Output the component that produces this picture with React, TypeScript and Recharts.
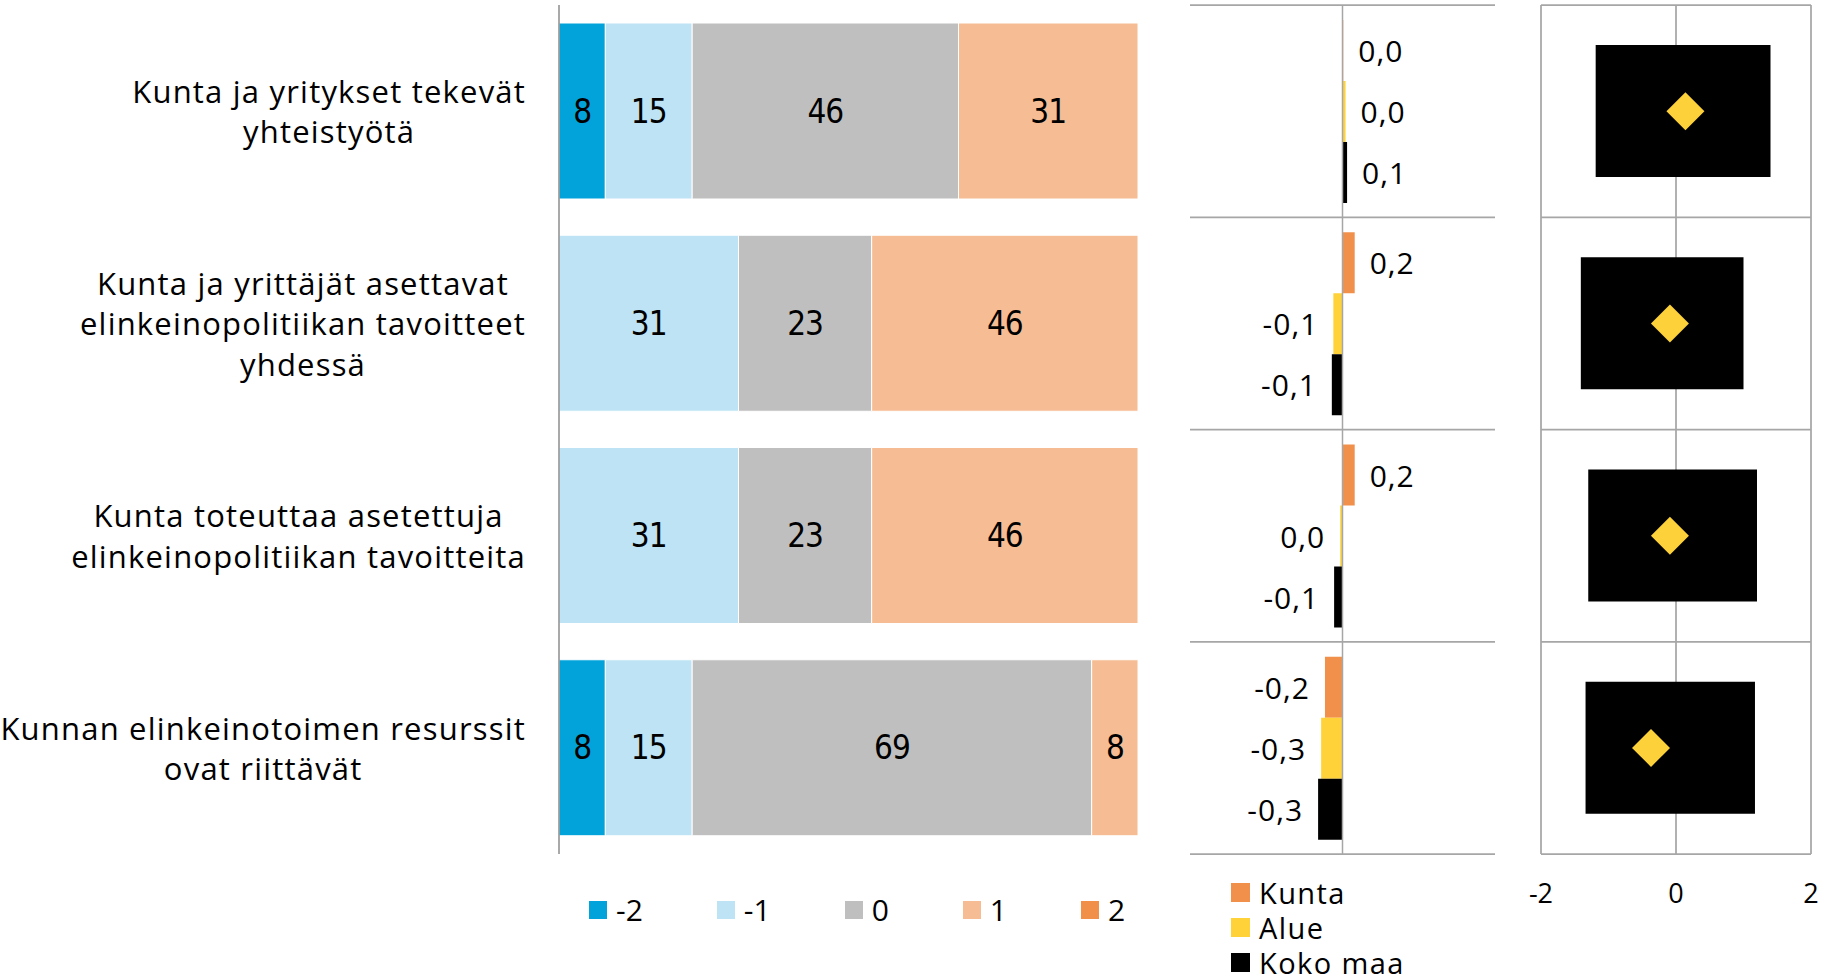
import React from "react"
import {
  BarChart,
  ComposedChart,
  Bar,
  Scatter,
  XAxis,
  YAxis,
  CartesianGrid,
  ReferenceLine,
  LabelList,
  Legend,
} from "recharts"

// statements, line breaks as in the original
const statements = [
  "Kunta ja yritykset tekevät\nyhteistyötä",
  "Kunta ja yrittäjät asettavat\nelinkeinopolitiikan tavoitteet\nyhdessä",
  "Kunta toteuttaa asetettuja\nelinkeinopolitiikan tavoitteita",
  "Kunnan elinkeinotoimen resurssit\novat riittävät",
]

// answer shares in % on the scale -2 ... 2
const shareMinus2 = [8, 0, 0, 8]
const shareMinus1 = [15, 31, 31, 15]
const shareZero = [46, 23, 23, 69]
const sharePlus1 = [31, 46, 46, 8]
const sharePlus2 = [0, 0, 0, 0]

// differences (middle panel)
const kunta = [0.01, 0.16, 0.16, -0.23]
const alue = [0.04, -0.12, -0.03, -0.28]
const kokoMaa = [0.06, -0.14, -0.11, -0.32]

// spread and mean (right panel)
const spreadLow = [-1.19, -1.41, -1.3, -1.34]
const spreadHigh = [1.4, 1.0, 1.2, 1.17]
const meanScore = [0.14, -0.09, -0.09, -0.37]

const scaleTicks = [-2, 0, 2]

const NARROW = "'DejaVu Sans Condensed', 'Liberation Sans Narrow', sans-serif"
const LABEL_FONT = "'Open Sans', sans-serif"
const LABEL_SIZE = 31
const LABEL_SPACING = 1.2
const LINE_H = 40.6
const GRID = "#A6A6A6"

const shareSeries = [
  { key: "m2", name: "-2", color: "#02A3DA" },
  { key: "m1", name: "-1", color: "#BDE3F5" },
  { key: "z", name: "0", color: "#BFBFBF" },
  { key: "p1", name: "1", color: "#F6BC93" },
  { key: "p2", name: "2", color: "#F09049" },
]

const areaSeries = [
  { key: "kunta", name: "Kunta", color: "#F0904B" },
  { key: "alue", name: "Alue", color: "#FFD23A" },
  { key: "kokoMaa", name: "Koko maa", color: "#000000" },
]

const data = statements.map((name, i) => ({
  name,
  m2: shareMinus2[i],
  m1: shareMinus1[i],
  z: shareZero[i],
  p1: sharePlus1[i],
  p2: sharePlus2[i],
  kunta: kunta[i],
  alue: alue[i],
  kokoMaa: kokoMaa[i],
  spread: [spreadLow[i], spreadHigh[i]],
  mean: meanScore[i],
}))

let measureCtx: CanvasRenderingContext2D | null = null
function textWidth(s: string) {
  if (!measureCtx) measureCtx = document.createElement("canvas").getContext("2d")
  if (!measureCtx) return s.length * LABEL_SIZE * 0.55
  measureCtx.font = `${LABEL_SIZE}px ${LABEL_FONT}`
  return measureCtx.measureText(s).width + s.length * LABEL_SPACING
}

// multi-line label, lines centred on each other, block right aligned to the axis
function CategoryTick(props: any) {
  const { x, y, payload } = props
  const lines = String(payload.value).split("\n")
  const maxW = Math.max(...lines.map(textWidth))
  const cx = x - maxW / 2
  const y0 = y - ((lines.length - 1) * LINE_H) / 2
  return (
    <g>
      {lines.map((line, i) => (
        <text
          key={i}
          x={cx}
          y={y0 + i * LINE_H}
          textAnchor="middle"
          dominantBaseline="central"
          fontFamily={LABEL_FONT}
          fontSize={LABEL_SIZE}
          letterSpacing={LABEL_SPACING}
          fill="#000"
        >
          {line}
        </text>
      ))}
    </g>
  )
}

function fmtDelta(v: number) {
  const s = Math.abs(v) < 0.05 ? "0.0" : v.toFixed(1)
  return s.replace(".", ",")
}

const renderDeltaLabel = (props: any) => {
  const { x, y, width, height, value } = props
  const left = Math.min(x, x + width)
  const right = Math.max(x, x + width)
  const neg = value < 0
  return (
    <text
      x={neg ? left - 15 : right + 15}
      y={y + height / 2}
      textAnchor={neg ? "end" : "start"}
      dominantBaseline="central"
      fontFamily={LABEL_FONT}
      fontSize={30}
      letterSpacing={1}
      fill="#000"
    >
      {fmtDelta(value)}
    </text>
  )
}

const renderDiamond = (props: any) => {
  const { cx, cy, fill } = props
  const r = 19
  return <polygon points={`${cx},${cy - r} ${cx + r},${cy} ${cx},${cy + r} ${cx - r},${cy}`} fill={fill} />
}

// grid lines on the category band edges
const bandEdges = ({ yAxis, offset }: any) => {
  const n = statements.length
  const scale = yAxis?.scale
  if (typeof scale === "function" && typeof scale.bandwidth === "function") {
    const starts = statements.map((s) => scale(s))
    return [...starts, starts[n - 1] + scale.bandwidth()]
  }
  return Array.from({ length: n + 1 }, (_, i) => offset.top + (i * offset.height) / n)
}

// keep legend entries in series order
const ordered = (payload: any[], series: { name: string }[]) =>
  series.map((s) => (payload || []).find((p: any) => p.value === s.name)).filter(Boolean)

const renderShareLegend = (props: any) => (
  <div style={{ display: "flex", gap: 74, fontFamily: LABEL_FONT, fontSize: 30, lineHeight: "36px" }}>
    {ordered(props.payload, shareSeries).map((entry: any) => (
      <div key={entry.value} style={{ display: "flex", alignItems: "center" }}>
        <span style={{ width: 18, height: 18, background: entry.color, marginRight: 9, display: "inline-block" }} />
        {entry.value}
      </div>
    ))}
  </div>
)

const renderAreaLegend = (props: any) => (
  <div style={{ fontFamily: LABEL_FONT, fontSize: 29, letterSpacing: 1.4, lineHeight: "35px" }}>
    {ordered(props.payload, areaSeries).map((entry: any) => (
      <div key={entry.value} style={{ display: "flex", alignItems: "center" }}>
        <span style={{ width: 19, height: 19, background: entry.color, marginRight: 9, display: "inline-block" }} />
        {entry.value}
      </div>
    ))}
  </div>
)

export default function App() {
  return (
    <div
      style={{
        position: "absolute",
        left: 0,
        top: 0,
        width: 1821,
        height: 977,
        overflow: "hidden",
        background: "#fff",
      }}
    >
      <div style={{ position: "absolute", left: 0, top: 0 }}>
        <BarChart
          width={1160}
          height={977}
          data={data}
          layout="vertical"
          margin={{ top: 5, right: 22, bottom: 123, left: 0 }}
          barSize={176}
        >
          <XAxis type="number" domain={[0, 100]} hide />
          <YAxis
            type="category"
            dataKey="name"
            width={559}
            axisLine={{ stroke: "#8C8C8C", strokeWidth: 1.5 }}
            tickLine={false}
            tickSize={0}
            tickMargin={33}
            interval={0}
            tick={<CategoryTick />}
          />
          <Legend
            verticalAlign="middle"
            content={renderShareLegend}
            wrapperStyle={{ top: 892, left: 589, width: 560, height: 36 }}
          />
          {shareSeries.map((s) => (
            <Bar
              key={s.key}
              dataKey={s.key}
              name={s.name}
              stackId="share"
              fill={s.color}
              stroke="#ffffff"
              strokeWidth={1}
              isAnimationActive={false}
            >
              <LabelList
                dataKey={s.key}
                position="center"
                formatter={(v: any) => (v ? v : "")}
                fill="#000"
                fontSize={33}
                letterSpacing={-1}
                fontFamily={NARROW}
              />
            </Bar>
          ))}
        </BarChart>
      </div>

      <div style={{ position: "absolute", left: 1150, top: 0 }}>
        <ComposedChart
          width={360}
          height={977}
          data={data}
          layout="vertical"
          margin={{ top: 5, right: 15, bottom: 123, left: 40 }}
          barSize={61}
          barGap={0}
        >
          <CartesianGrid vertical={false} stroke={GRID} strokeWidth={1.75} horizontalCoordinatesGenerator={bandEdges} />
          <XAxis type="number" domain={[-2, 2]} hide />
          <YAxis type="category" dataKey="name" hide />
          <ReferenceLine x={0} stroke={GRID} strokeWidth={1.5} />
          {areaSeries.map((s) => (
            <Bar key={s.key} dataKey={s.key} name={s.name} fill={s.color} isAnimationActive={false}>
              <LabelList dataKey={s.key} content={renderDeltaLabel} />
            </Bar>
          ))}
          <Legend
            verticalAlign="middle"
            content={renderAreaLegend}
            wrapperStyle={{ top: 875, left: 81, width: 250, height: 105 }}
          />
        </ComposedChart>
      </div>

      <div style={{ position: "absolute", left: 1510, top: 0 }}>
        <ComposedChart
          width={311}
          height={977}
          data={data}
          layout="vertical"
          margin={{ top: 5, right: 10, bottom: 83, left: 31 }}
        >
          <CartesianGrid stroke={GRID} strokeWidth={1.75} horizontalCoordinatesGenerator={bandEdges} />
          <XAxis
            type="number"
            domain={[-2, 2]}
            ticks={scaleTicks}
            interval={0}
            axisLine={false}
            tickLine={false}
            tickSize={0}
            tickMargin={30}
            height={40}
            tick={{ fill: "#000", fontSize: 27, fontFamily: LABEL_FONT }}
          />
          <YAxis type="category" dataKey="name" hide />
          <Bar dataKey="spread" fill="#000000" barSize={132} isAnimationActive={false} />
          <Scatter dataKey="mean" fill="#FDD13A" shape={renderDiamond} isAnimationActive={false} />
        </ComposedChart>
      </div>
    </div>
  )
}
